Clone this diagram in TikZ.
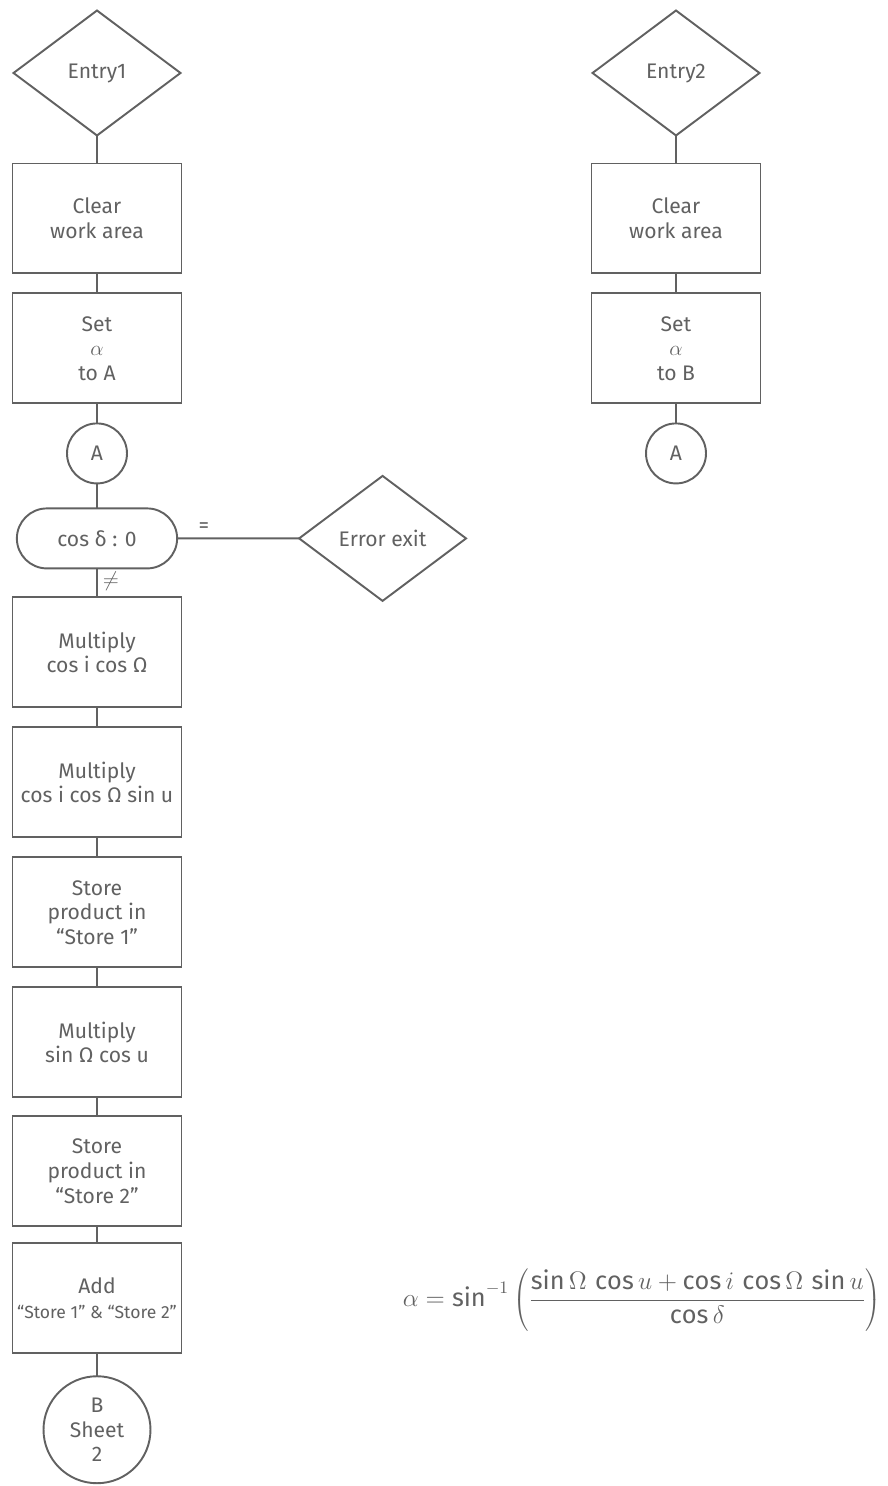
\documentclass[tikz,border=0pt]{standalone}
\usepackage{fontspec}
\setmainfont{Fira Sans}
\usetikzlibrary{positioning,shapes.geometric,shapes.misc}
\definecolor{pencil}{gray}{0.38}
\tikzstyle{flow sheet}=[
    -,color=pencil,line width=1.1pt,x=0.02cm,y=-0.02cm,node distance=0.4cm,
    every node/.style={
        align=center,
        font=\large,
        outer sep=0pt,
    },
    box/.style={draw,rectangle,minimum width=3.38cm,minimum height=2.2cm,inner sep=2pt},
    entry/.style={draw,diamond,aspect=1.34,minimum width=3.34cm,minimum height=2.5cm,inner sep=1pt},
    connector/.style={draw,circle,minimum size=1.2cm,inner sep=0pt},
    test/.style={draw,rounded rectangle,minimum width=3.44cm,minimum height=1.2cm}]
\newcommand{\storename}[1]{``Store #1''}

\begin{document}
\begin{tikzpicture}[flow sheet]
        \useasboundingbox (0,0) rectangle (887,1486);
        % first entry
        \node[entry] (e1) at (97,73) {Entry1};
        \node[box, below=0.56cm of e1] (c1) {Clear\\work area};
        \node[box, below=of c1] (s1) {Set\\$\alpha$\\to A};
        \node[connector, below=0.4cm of s1] (a1) {A};
        \node[test, below=0.5cm of a1] (t1) {cos δ : 0};
        \node[entry, right=2.44cm of t1] (err) {Error exit};
        \node[box, below=0.58cm of t1] (m1) {Multiply\\cos i cos Ω};
        \node[box, below=of m1] (m2) {Multiply\\cos i cos Ω sin u};
        \node[box, below=of m2] (st1) {Store\\product in\\\storename{1}};
        \node[box, below=of st1] (m3) {Multiply\\sin Ω cos u};
        \node[box, below=0.38cm of m3] (st2) {Store\\product in\\\storename{2}};
        \node[box, below=0.34cm of st2] (add) {Add\\{\normalsize\storename{1} \& \storename{2}}};
        \node[connector, minimum size=2.14cm, below=0.46cm of add] (b) {B\\Sheet\\2};

        % second entry
        \node[entry] (e2) at (676,73) {Entry2};
        \node[box, below=0.56cm of e2] (c2) {Clear\\work area};
        \node[box, below=of c2] (s2) {Set\\$\alpha$\\to B};
        \node[connector, below=0.4cm of s2] (a2) {A};

        \node (f) at (642,1300) {\Large $\displaystyle \alpha = \sin^{-1}\left(\frac{\sin\Omega\,\cos u + \cos i\,\cos\Omega\,\sin u}{\cos\delta}\right)$};

        \path
            (e1) edge (c1)
            (c1) edge (s1)
            (s1) edge (a1)
            (a1) edge (t1)
            (t1) edge node[above, pos=0.22] {=} (err)
            (t1) edge node[right, pos=0.45] {$\neq$} (m1)
            (m1) edge (m2)
            (m2) edge (st1)
            (st1) edge (m3)
            (m3) edge (st2)
            (st2) edge (add)
            (add) edge (b)
            (e2) edge (c2)
            (c2) edge (s2)
            (s2) edge (a2)
        ;
    \end{tikzpicture}
\end{document}
